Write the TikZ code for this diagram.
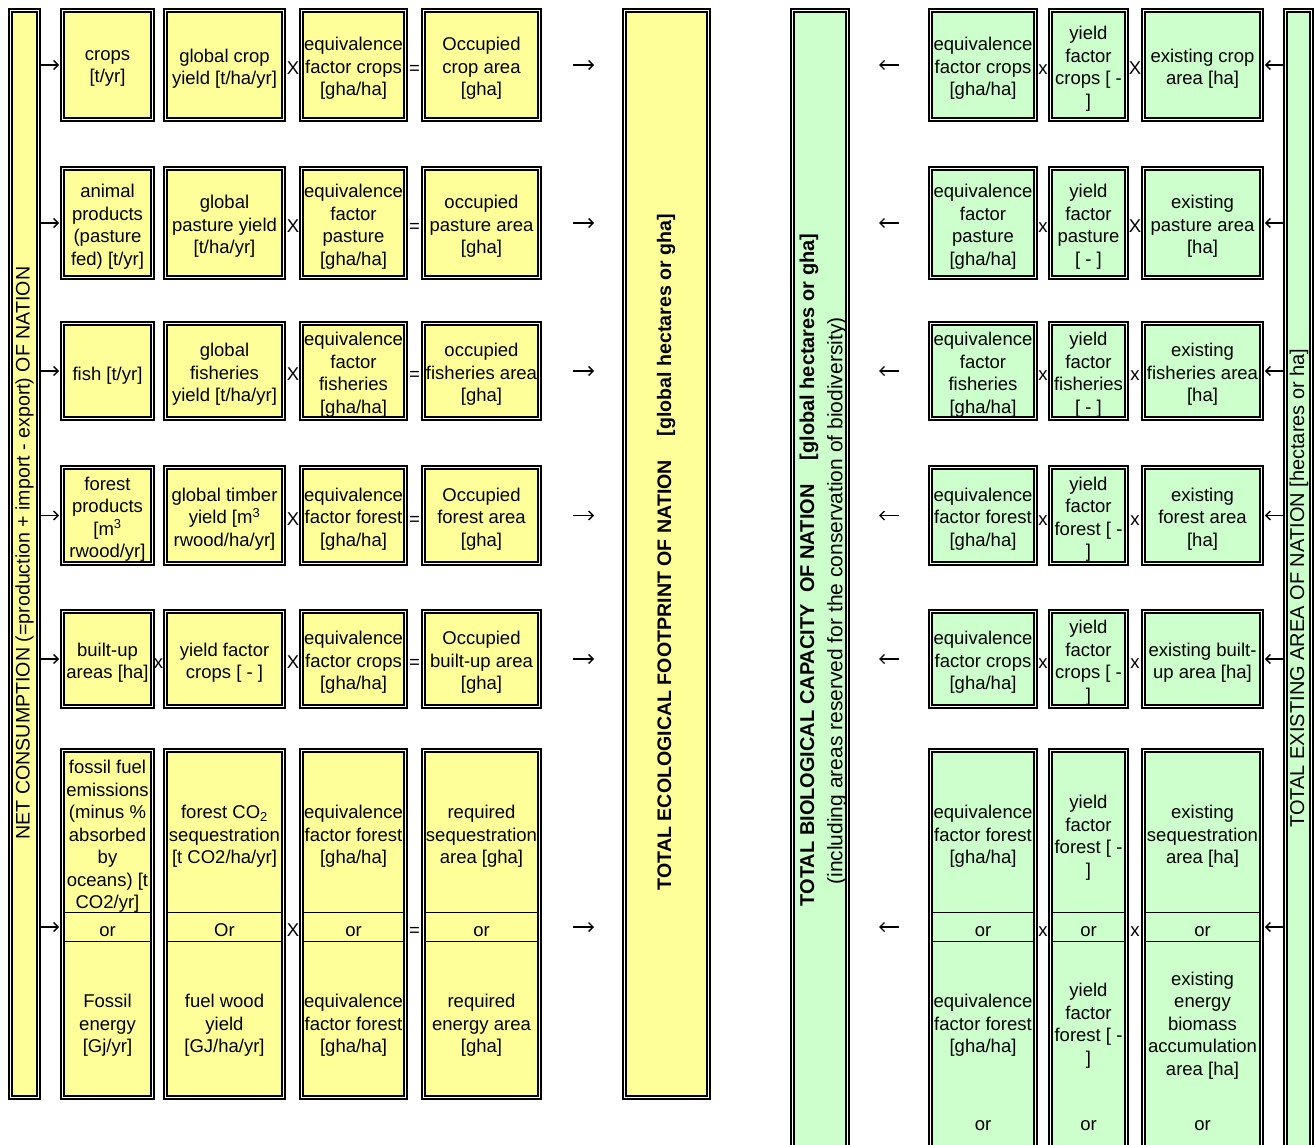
\documentclass[tikz,border=0pt]{standalone}
\usepackage{fontspec}
\setmainfont{Liberation Sans}
\usetikzlibrary{arrows.meta}
\definecolor{yel}{HTML}{FFFF99}
\definecolor{grn}{HTML}{CCFFCC}
\newcommand\fs{\fontsize{18.5}{22.5}\selectfont}
\newcommand\fsv{\fontsize{19.6}{22.5}\selectfont}
\tikzset{
 box/.style={draw=black, line width=1.7pt, double=white, double distance=1.2pt, inner sep=0pt},
 txt/.style={inner sep=0pt, align=center, font=\fs, yshift=-5pt, execute at begin node=\strut, execute at end node=\strut},
 conn/.style={line width=1.4pt, -{Straight Barb[length=4.5pt,width=9pt]}, shorten >=2.3pt},
 glyph/.style={line width=1.4pt, -{Straight Barb[length=4.5pt,width=9pt]}},
 band/.style={line width=0.9pt},
 vtxt/.style={inner sep=0pt, rotate=90, font=\fsv},
 vtxtb/.style={inner sep=0pt, rotate=90, font=\fsv\bfseries},
}
\newcommand\bx[7]{\node[box, fill=#6, minimum width={#4-#2-4.6}, minimum height={#5-#3-4.6}] (#1) at ({(#2+#4)/2},{(#3+#5)/2}) {};
\node[txt] (#1t) at (#1.center) {#7};}
\begin{document}
\begin{tikzpicture}[x=1pt,y=-1pt]
\useasboundingbox (0,0) rectangle (1315,1145);
\clip (0,0) rectangle (1315,1145);
% ---------- bars
\node[box, fill=yel, minimum width=28.4, minimum height=1087.4] (net) at (24.5,554) {};
\node[box, fill=yel, minimum width=84.4, minimum height=1087.4] (tef) at (666.5,554) {};
\node[box, fill=grn, minimum width=55.4, minimum height=1157.4] (tbc) at (820,589) {};
\node[box, fill=grn, minimum width=26.4, minimum height=1157.4] (tea) at (1298.5,589) {};
\node[vtxt] (netT) at (24.5,553) {NET CONSUMPTION (=production + import - export) OF NATION};
\node[vtxtb] (tefT) at (666,552) {TOTAL ECOLOGICAL FOOTPRINT OF NATION\hspace{24pt}[global hectares or gha]};
\node[vtxtb, font=\fontsize{20}{22.5}\selectfont\bfseries] (tbcT1) at (809,570) {TOTAL BIOLOGICAL CAPACITY\ \ OF NATION\hspace{24pt}[global hectares or gha]};
\node[vtxt, font=\fontsize{21}{22.5}\selectfont] (tbcT2) at (837,601) {(including areas reserved for the conservation of biodiversity)};
\node[vtxt, font=\fontsize{20}{22.5}\selectfont] (teaT) at (1299,588) {TOTAL EXISTING AREA OF NATION [hectares or ha]};
% ---------- yellow rows
% row 1
\bx{y11}{60}{8}{155}{122}{yel}{crops\\{}[t/yr]}
\bx{y12}{163}{8}{286}{122}{yel}{global crop\\yield [t/ha/yr]}
\bx{y13}{299}{8}{408}{122}{yel}{equivalence\\factor crops\\{}[gha/ha]}
\bx{y14}{421}{8}{542}{122}{yel}{Occupied\\crop area\\{}[gha]}
% row 2
\bx{y21}{60}{166}{155}{280}{yel}{animal\\products\\(pasture\\fed) [t/yr]}
\bx{y22}{163}{166}{286}{280}{yel}{global\\pasture yield\\{}[t/ha/yr]}
\bx{y23}{299}{166}{408}{280}{yel}{equivalence\\factor\\pasture\\{}[gha/ha]}
\bx{y24}{421}{166}{542}{280}{yel}{occupied\\pasture area\\{}[gha]}
% row 3
\bx{y31}{60}{321}{155}{421}{yel}{fish [t/yr]}
\bx{y32}{163}{321}{286}{421}{yel}{global\\fisheries\\yield [t/ha/yr]}
\bx{y33}{299}{321}{408}{421}{yel}{equivalence\\factor\\fisheries\\{}[gha/ha]}
\bx{y34}{421}{321}{542}{421}{yel}{occupied\\fisheries area\\{}[gha]}
% row 4
\bx{y41}{60}{465}{155}{566}{yel}{forest\\products\\{}[m\textsuperscript{3}\\rwood/yr]}
\bx{y42}{163}{465}{286}{566}{yel}{global timber\\yield [m\textsuperscript{3}\\rwood/ha/yr]}
\bx{y43}{299}{465}{408}{566}{yel}{equivalence\\factor forest\\{}[gha/ha]}
\bx{y44}{421}{465}{542}{566}{yel}{Occupied\\forest area\\{}[gha]}
% row 5
\bx{y51}{60}{609}{155}{709}{yel}{built-up\\areas [ha]}
\bx{y52}{163}{609}{286}{709}{yel}{yield factor\\crops [ - ]}
\bx{y53}{299}{609}{408}{709}{yel}{equivalence\\factor crops\\{}[gha/ha]}
\bx{y54}{421}{609}{542}{709}{yel}{Occupied\\built-up area\\{}[gha]}
% row 6
\bx{y61}{60}{748}{155}{1100}{yel}{}
\bx{y62}{163}{748}{286}{1100}{yel}{}
\bx{y63}{299}{748}{408}{1100}{yel}{}
\bx{y64}{421}{748}{542}{1100}{yel}{}
\foreach \a/\b in {60/155,163/286,299/408,421/542}{
  \draw[band] (\a+4,912) -- (\b-4,912);
  \draw[band] (\a+4,941) -- (\b-4,941);
}
\node[txt] (y61a) at (107.5,833) {fossil fuel\\emissions\\(minus \%\\absorbed\\by\\oceans) [t\\CO2/yr]};
\node[txt] (y62a) at (224.5,833) {forest CO\textsubscript{2}\\sequestration\\{}[t CO2/ha/yr]};
\node[txt] (y63a) at (353.5,833) {equivalence\\factor forest\\{}[gha/ha]};
\node[txt] (y64a) at (481.5,833) {required\\sequestration\\area [gha]};
\node[txt] (y61o) at (107.5,927) {or};
\node[txt] (y62o) at (224.5,927) {Or};
\node[txt] (y63o) at (353.5,927) {or};
\node[txt] (y64o) at (481.5,927) {or};
\node[txt] (y61b) at (107.5,1022) {Fossil\\energy\\{}[Gj/yr]};
\node[txt] (y62b) at (224.5,1022) {fuel wood\\yield\\{}[GJ/ha/yr]};
\node[txt] (y63b) at (353.5,1022) {equivalence\\factor forest\\{}[gha/ha]};
\node[txt] (y64b) at (481.5,1022) {required\\energy area\\{}[gha]};
\coordinate (r6) at (0,927);
% yellow operators and arrows
\foreach \r/\y/\oa in {1/65//,2/223//,3/371//,4/515.5//,5/659/x,6/927//}{
  \node[txt] (yo\r a) at (158.5,\y) {\oa};
  \node[txt] (yo\r b) at (293,\y) {X};
  \node[txt] (yo\r c) at (414.5,\y) {=};
  \coordinate (ys\r) at (573,\y);
  \coordinate (ye\r) at (594,\y);
  \draw[glyph] (ys\r) -- (ye\r);
}
\foreach \r in {1,2,3,4,5}{
  \draw[conn] (net.east |- y\r1.west) -- (y\r1.west);
}
\draw[conn] (net.east |- r6) -- (y61.west |- r6);
% ---------- green rows
\bx{g11}{928}{8}{1038}{122}{grn}{equivalence\\factor crops\\{}[gha/ha]}
\bx{g12}{1048}{8}{1129}{122}{grn}{yield\\factor\\crops [ -\\{}]}
\bx{g13}{1141}{8}{1264}{122}{grn}{existing crop\\area [ha]}
\bx{g21}{928}{166}{1038}{280}{grn}{equivalence\\factor\\pasture\\{}[gha/ha]}
\bx{g22}{1048}{166}{1129}{280}{grn}{yield\\factor\\pasture\\{}[ - ]}
\bx{g23}{1141}{166}{1264}{280}{grn}{existing\\pasture area\\{}[ha]}
\bx{g31}{928}{321}{1038}{421}{grn}{equivalence\\factor\\fisheries\\{}[gha/ha]}
\bx{g32}{1048}{321}{1129}{421}{grn}{yield\\factor\\fisheries\\{}[ - ]}
\bx{g33}{1141}{321}{1264}{421}{grn}{existing\\fisheries area\\{}[ha]}
\bx{g41}{928}{465}{1038}{566}{grn}{equivalence\\factor forest\\{}[gha/ha]}
\bx{g42}{1048}{465}{1129}{566}{grn}{yield\\factor\\forest [ -\\{}]}
\bx{g43}{1141}{465}{1264}{566}{grn}{existing\\forest area\\{}[ha]}
\bx{g51}{928}{609}{1038}{709}{grn}{equivalence\\factor crops\\{}[gha/ha]}
\bx{g52}{1048}{609}{1129}{709}{grn}{yield\\factor\\crops [ -\\{}]}
\bx{g53}{1141}{609}{1264}{709}{grn}{existing built-\\up area [ha]}
\bx{g61}{928}{748}{1038}{1170}{grn}{}
\bx{g62}{1048}{748}{1129}{1170}{grn}{}
\bx{g63}{1141}{748}{1264}{1170}{grn}{}
\foreach \a/\b in {928/1038,1048/1129,1141/1264}{
  \draw[band] (\a+4,912) -- (\b-4,912);
  \draw[band] (\a+4,941) -- (\b-4,941);
}
\node[txt] (g61a) at (983,833) {equivalence\\factor forest\\{}[gha/ha]};
\node[txt] (g62a) at (1088.5,834) {yield\\factor\\forest [ -\\{}]};
\node[txt] (g63a) at (1202.5,833) {existing\\sequestration\\area [ha]};
\node[txt] (g61o) at (983,927) {or};
\node[txt] (g62o) at (1088.5,927) {or};
\node[txt] (g63o) at (1202.5,927) {or};
\node[txt] (g61b) at (983,1022) {equivalence\\factor forest\\{}[gha/ha]};
\node[txt] (g62b) at (1088.5,1022) {yield\\factor\\forest [ -\\{}]};
\node[txt] (g63b) at (1202.5,1022) {existing\\energy\\biomass\\accumulation\\area [ha]};
\node[txt] (g61z) at (983,1121) {or};
\node[txt] (g62z) at (1088.5,1121) {or};
\node[txt] (g63z) at (1202.5,1121) {or};
\foreach \r/\y/\ob in {1/65/X,2/223/X,3/371/x,4/515.5/x,5/659/x,6/927/x}{
  \coordinate (gs\r) at (899,\y);
  \coordinate (ge\r) at (879,\y);
  \draw[glyph] (gs\r) -- (ge\r);
  \node[txt] (go\r a) at (1043,\y) {x};
  \node[txt] (go\r b) at (1135,\y) {\ob};
}
\foreach \r in {1,2,3,4,5}{
  \draw[conn] (tea.west |- g\r3.east) -- (g\r3.east);
}
\draw[conn] (tea.west |- r6) -- (g63.east |- r6);
\end{tikzpicture}
\end{document}
